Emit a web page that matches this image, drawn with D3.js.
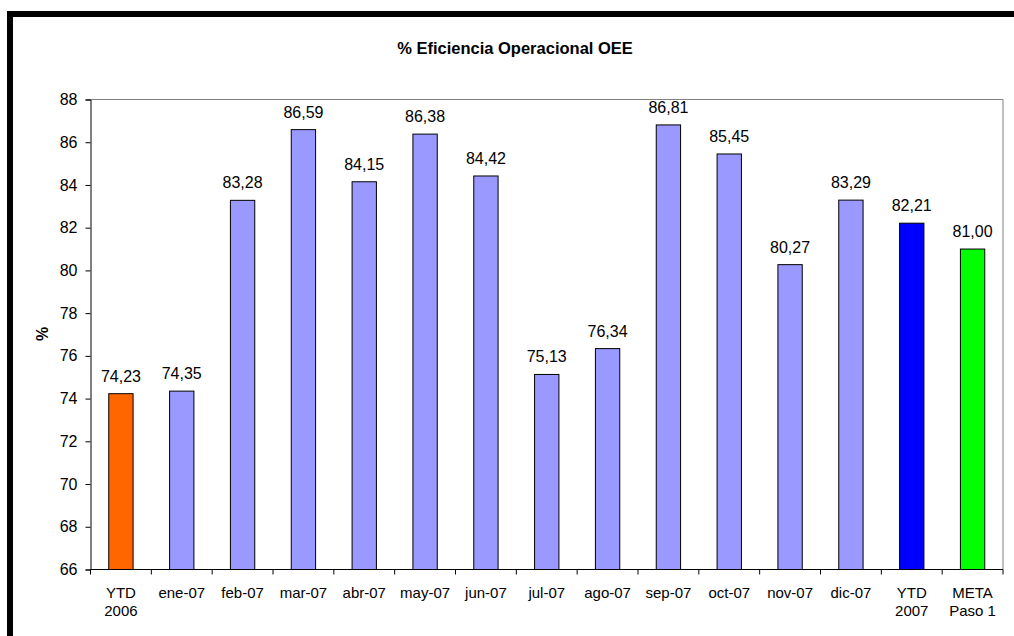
<!DOCTYPE html>
<html>
<head>
<meta charset="utf-8">
<script src="https://cdn.jsdelivr.net/npm/d3@7"></script>
<style>
  body { margin: 0; background: #fff; }
  svg { display: block; font-family: "Liberation Sans", Arial, sans-serif; }
</style>
</head>
<body>
<div id="chart"></div>
<script>
// chart data
const categories = ["YTD|2006", "ene-07", "feb-07", "mar-07", "abr-07", "may-07", "jun-07",
    "jul-07", "ago-07", "sep-07", "oct-07", "nov-07", "dic-07", "YTD|2007", "META|Paso 1"];
const values = [74.23, 74.35, 83.28, 86.59, 84.15, 86.38, 84.42,
    75.13, 76.34, 86.81, 85.45, 80.27, 83.29, 82.21, 81.00];
const barColors = ["#ff6600", "#9999ff", "#9999ff", "#9999ff", "#9999ff", "#9999ff", "#9999ff",
    "#9999ff", "#9999ff", "#9999ff", "#9999ff", "#9999ff", "#9999ff", "#0000ff", "#00ff00"];
const yTicks = [66, 68, 70, 72, 74, 76, 78, 80, 82, 84, 86, 88];

const W = 1014, H = 636;
const margin = { top: 99.5, right: 11, bottom: 66.5, left: 90.5 };
const width = W - margin.left - margin.right;
const height = H - margin.top - margin.bottom;

const svg = d3.select("#chart").append("svg")
    .attr("width", W)
    .attr("height", H);

// outer frame (runs off right/bottom edge)
svg.append("rect")
    .attr("x", 10).attr("y", 14)
    .attr("width", 1100).attr("height", 700)
    .attr("fill", "none")
    .attr("stroke", "#000")
    .attr("stroke-width", 6);

// title
svg.append("text")
    .attr("x", 515).attr("y", 54)
    .attr("text-anchor", "middle")
    .style("font-size", "16.5px")
    .style("font-weight", "bold")
    .text("% Eficiencia Operacional OEE");

const g = svg.append("g")
    .attr("transform", `translate(${margin.left},${margin.top})`);

const x = d3.scaleBand()
    .domain(categories)
    .range([0, width])
    .paddingInner(0.6)
    .paddingOuter(0.3);

const y = d3.scaleLinear()
    .domain([66, 88])
    .range([height, 0]);

// plot frame top/right in gray
g.append("path")
    .attr("d", `M0,0H${width}V${height}`)
    .attr("fill", "none")
    .attr("stroke", "#808080")
    .attr("stroke-width", 1);

// bars
g.selectAll("rect.bar")
    .data(values)
    .join("rect")
    .attr("class", "bar")
    .attr("x", (d, i) => x(categories[i]))
    .attr("y", d => y(d))
    .attr("width", x.bandwidth())
    .attr("height", d => height - y(d))
    .attr("fill", (d, i) => barColors[i])
    .attr("stroke", "#000")
    .attr("stroke-width", 1);

// value labels
g.selectAll("text.val")
    .data(values)
    .join("text")
    .attr("class", "val")
    .attr("x", (d, i) => x(categories[i]) + x.bandwidth() / 2)
    .attr("y", d => y(d) - 12)
    .attr("text-anchor", "middle")
    .style("font-size", "16px")
    .text(d => d.toFixed(2).replace(".", ","));

// y axis
const yAxis = g.append("g")
    .call(d3.axisLeft(y).tickValues(yTicks).tickSize(5).tickPadding(8));
yAxis.select(".domain").attr("stroke", "#000");
yAxis.selectAll("text").style("font-size", "16px").attr("fill", "#000");

// x axis: ticks at band boundaries
const xAxis = g.append("g")
    .attr("transform", `translate(0,${height})`);
xAxis.append("line")
    .attr("x1", 0).attr("x2", width)
    .attr("stroke", "#000");
const step = x.step();
xAxis.selectAll("line.tick")
    .data(d3.range(categories.length + 1))
    .join("line")
    .attr("class", "tick")
    .attr("x1", i => i * step).attr("x2", i => i * step)
    .attr("y1", 0).attr("y2", 5)
    .attr("stroke", "#000");

const labels = xAxis.selectAll("text.cat")
    .data(categories)
    .join("text")
    .attr("class", "cat")
    .attr("x", d => x(d) + x.bandwidth() / 2)
    .attr("text-anchor", "middle")
    .style("font-size", "15px");
labels.each(function (d) {
    const parts = d.split("|");
    const t = d3.select(this);
    parts.forEach((p, k) => {
        t.append("tspan")
            .attr("x", x(d) + x.bandwidth() / 2)
            .attr("y", 28 + k * 18.7)
            .text(p);
    });
});

// y axis label
svg.append("text")
    .attr("transform", "translate(48,334) rotate(-90)")
    .attr("text-anchor", "middle")
    .style("font-size", "16px")
    .style("font-weight", "bold")
    .text("%");
</script>
</body>
</html>
